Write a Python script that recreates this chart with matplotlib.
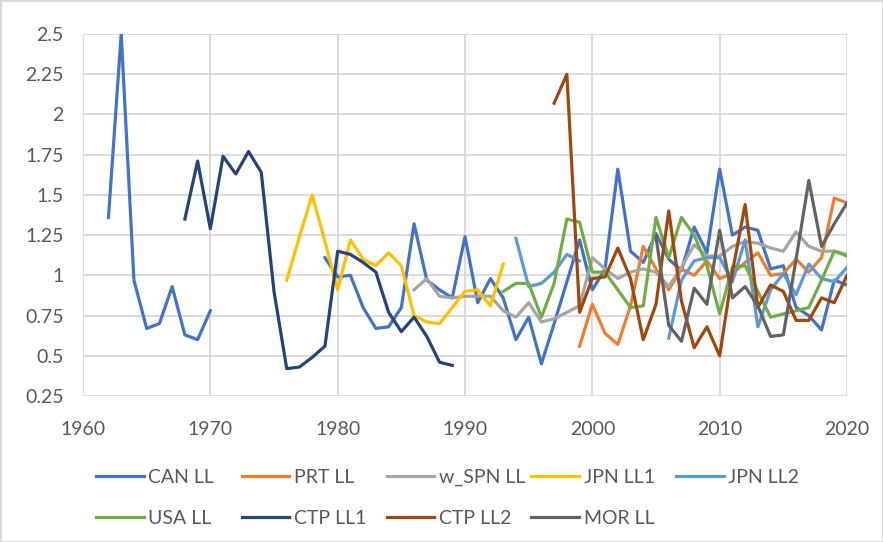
import numpy as np
import matplotlib
matplotlib.use('Agg')
import matplotlib.pyplot as plt

plt.rcParams['font.family'] = ['Lato', 'DejaVu Sans']

nan = np.nan

# yearly series, NaN where a fleet has no value
CAN_LL_YEARS = list(range(1962, 2021))
CAN_LL = [1.36, 2.50, 0.97, 0.67, 0.70, 0.93, 0.63, 0.60, 0.78,
          nan, nan, nan, nan, nan, nan, nan, nan,
          1.11, 0.99, 1.00, 0.80, 0.67, 0.68, 0.80, 1.32, 0.97, 0.91,
          0.86, 1.24, 0.83, 0.98, 0.86, 0.60, 0.74, 0.45, 0.70, 0.96,
          1.22, 0.91, 1.04, 1.66, 1.15, 1.08, 1.26, 1.10, 1.03, 1.30,
          1.14, 1.66, 1.25, 1.30, 1.28, 1.04, 1.06, 0.80, 0.75, 0.66,
          0.97, 0.94]

PRT_LL_YEARS = list(range(1999, 2021))
PRT_LL = [0.56, 0.82, 0.64, 0.57, 0.81, 1.18, 1.04, 0.91, 1.04, 1.00,
          1.09, 0.98, 1.01, 1.08, 1.14, 1.00, 1.01, 1.10, 1.02, 1.11,
          1.48, 1.45]

W_SPN_LL_YEARS = list(range(1986, 2021))
W_SPN_LL = [0.91, 0.98, 0.87, 0.86, 0.87, 0.87, 0.87, 0.78, 0.74, 0.83,
            0.71, 0.73, 0.77, 0.81, 1.11, 1.04, 0.98, 1.02, 1.04, 1.02,
            0.93, 1.05, 1.19, 1.12, 1.12, 1.18, 1.21, 1.20, 1.17, 1.15,
            1.27, 1.18, 1.15, 1.15, 1.13]

JPN_LL1_YEARS = list(range(1976, 1994))
JPN_LL1 = [0.97, 1.24, 1.50, 1.21, 0.91, 1.22, 1.10, 1.06, 1.14, 1.06,
           0.75, 0.71, 0.70, 0.80, 0.90, 0.91, 0.81, 1.07]

JPN_LL2_YEARS = list(range(1994, 2021))
JPN_LL2 = [1.23, 0.93, 0.95, 1.02, 1.13, 1.09,
           nan, nan, nan, nan, nan, nan,
           0.61, 0.97, 1.09, 1.11, 1.11, 0.96, 1.22, 0.68, 0.91, 1.01,
           0.88, 1.07, 0.98, 0.96, 1.05]

USA_LL_YEARS = list(range(1993, 2021))
USA_LL = [0.90, 0.95, 0.95, 0.74, 0.95, 1.35, 1.33, 1.02, 1.02, 0.91,
          0.80, 0.81, 1.36, 1.11, 1.36, 1.25, 1.06, 0.76, 1.05, 1.06,
          0.90, 0.74, 0.76, 0.78, 0.80, 0.97, 1.15, 1.12]

CTP_LL1_YEARS = list(range(1968, 1990))
CTP_LL1 = [1.35, 1.71, 1.29, 1.74, 1.63, 1.77, 1.64, 0.90, 0.42, 0.43,
           0.49, 0.56, 1.15, 1.13, 1.08, 1.02, 0.77, 0.65, 0.74, 0.62,
           0.46, 0.44]

CTP_LL2_YEARS = list(range(1997, 2021))
CTP_LL2 = [2.07, 2.25, 0.77, 0.98, 0.99, 1.17, 0.98, 0.60, 0.82, 1.40,
           0.84, 0.55, 0.68, 0.50, 1.02, 1.44, 0.80, 0.94, 0.90, 0.72,
           0.72, 0.86, 0.83, 1.00]

MOR_LL_YEARS = list(range(2005, 2021))
MOR_LL = [1.24, 0.69, 0.59, 0.92, 0.82, 1.28, 0.86, 0.93, 0.81, 0.62,
          0.63, 1.10, 1.59, 1.18, 1.32, 1.45]

SERIES = [
    ('CAN LL',   CAN_LL_YEARS,   CAN_LL,   '#4472C4'),
    ('PRT LL',   PRT_LL_YEARS,   PRT_LL,   '#ED7D31'),
    ('w_SPN LL', W_SPN_LL_YEARS, W_SPN_LL, '#A5A5A5'),
    ('JPN LL1',  JPN_LL1_YEARS,  JPN_LL1,  '#FFC000'),
    ('JPN LL2',  JPN_LL2_YEARS,  JPN_LL2,  '#5B9BD5'),
    ('USA LL',   USA_LL_YEARS,   USA_LL,   '#70AD47'),
    ('CTP LL1',  CTP_LL1_YEARS,  CTP_LL1,  '#264478'),
    ('CTP LL2',  CTP_LL2_YEARS,  CTP_LL2,  '#9E480E'),
    ('MOR LL',   MOR_LL_YEARS,   MOR_LL,   '#636363'),
]

Y_TICKS = [0.25, 0.5, 0.75, 1, 1.25, 1.5, 1.75, 2, 2.25, 2.5]
Y_LABELS = ['0.25', '0.5', '0.75', '1', '1.25', '1.5', '1.75', '2', '2.25', '2.5']
X_TICKS = [1960, 1970, 1980, 1990, 2000, 2010, 2020]

TEXT = '#595959'
GRID = '#D9D9D9'
FS = 14

fig = plt.figure(figsize=(8.83, 5.42), dpi=100)
fig.patch.set_edgecolor(GRID)
fig.patch.set_linewidth(2)
ax = fig.add_axes([83 / 883, 1 - 396 / 542, 764 / 883, 362 / 542])

handles = []
for name, yrs, vals, col in SERIES:
    ln, = ax.plot(yrs, vals, color=col, lw=2.3, solid_joinstyle='round', label=name)
    handles.append(ln)

ax.set_xlim(1960, 2020)
ax.set_ylim(0.25, 2.5)
ax.set_xticks(X_TICKS)
ax.set_xticklabels([str(x) for x in X_TICKS])
ax.set_yticks(Y_TICKS)
ax.set_yticklabels(Y_LABELS)
ax.grid(True, color=GRID, lw=1.3)
ax.set_axisbelow(True)
for s in ax.spines.values():
    s.set_visible(False)
ax.tick_params(axis='both', length=0, labelsize=FS, labelcolor=TEXT)
ax.tick_params(axis='x', pad=18)
ax.tick_params(axis='y', pad=14)

# legend: five fixed-width columns, two rows
col_x = [96, 241.5, 386.5, 531, 676]
for i, x in enumerate(col_x):
    hs = [handles[i]] + ([handles[i + 5]] if i + 5 < len(handles) else [])
    fig.legend(hs, [h.get_label() for h in hs], loc='upper left',
               bbox_to_anchor=(x / 883, 1 - 469 / 542),
               frameon=False, fontsize=FS, labelcolor=TEXT,
               handlelength=2.45, handletextpad=0.25,
               borderpad=0, borderaxespad=0, labelspacing=1.22)

fig.savefig('out.png', dpi=100)
